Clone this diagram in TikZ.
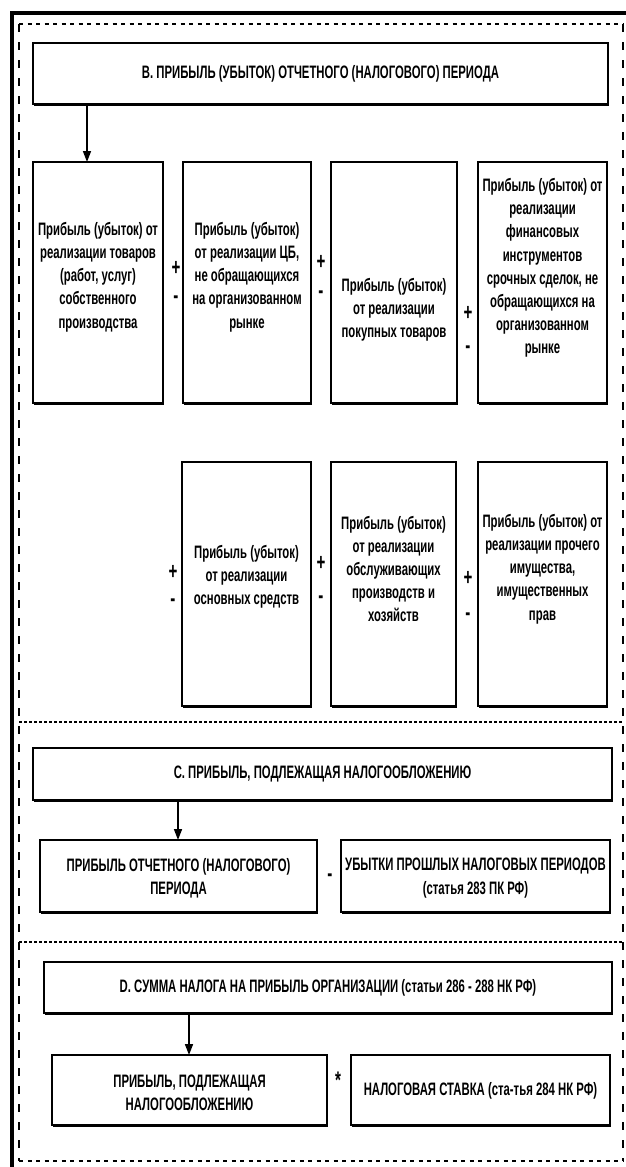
\documentclass[tikz,border=0pt]{standalone}
\usepackage{fontspec}
\setmainfont{Liberation Sans}[FakeStretch=0.63]
\usetikzlibrary{arrows.meta,shadows}
\newcommand\mybox[5]{\node[box, minimum width={(#4)-(#2)}, minimum height={(#5)-(#3)}] (#1) at ({((#2)+(#4))/2},{((#3)+(#5))/2}) {};}
\begin{document}
\begin{tikzpicture}[x=1pt,y=-1pt,
  box/.style={draw, line width=2.6pt, fill=white, inner sep=0pt, outer sep=0pt,
    drop shadow={shadow xshift=1pt, shadow yshift=-1.5pt, opacity=1, fill=black}},
  txt/.style={align=center, font=\bfseries\fontsize{18}{23.2}\selectfont, inner sep=0pt},
  sign/.style={font=\bfseries\fontsize{24}{24}\selectfont, inner sep=0pt},
  arr/.style={line width=1.6pt, -{Triangle[length=11pt,width=8pt]}},
  vdash/.style={line width=2pt, dash pattern=on 8pt off 10pt},
  hdash/.style={line width=2pt, dash pattern=on 4pt off 4.5pt},
  divdash/.style={line width=2pt, dash pattern=on 3pt off 2pt}]
\useasboundingbox (0,0) rectangle (626,1167);
% outer thick frame
\draw[line width=4pt] (12,1167) -- (12,13) -- (626,13);
% dashed frame
\draw[hdash] (19,24) -- (623,24);
\draw[hdash] (19,1161) -- (623,1161);
\draw[vdash] (19,24) -- (19,1161);
\draw[vdash] (623,24) -- (623,1161);
\draw[divdash] (19,722) -- (623,722);
\draw[divdash] (19,942) -- (623,942);

% Section B
\node[box, txt, minimum width=575, minimum height=61] (bh) at (320.5,73.5)
  {В. ПРИБЫЛЬ (УБЫТОК) ОТЧЕТНОГО (НАЛОГОВОГО) ПЕРИОДА};
\mybox{b1}{33}{162}{163}{403}
\mybox{b2}{183}{162}{311}{403}
\mybox{b3}{331}{162}{457}{403}
\mybox{b4}{478}{162}{607}{403}
\mybox{b5}{182}{462}{311}{706}
\mybox{b6}{331}{462}{456}{706}
\mybox{b7}{478}{462}{607}{706}
\node[txt] (b1t) at (98,277) {Прибыль (убыток) от\\реализации товаров\\(работ, услуг)\\собственного\\производства};
\node[txt] (b2t) at (247,277) {Прибыль (убыток)\\от реализации ЦБ,\\не обращающихся\\на организованном\\рынке};
\node[txt] (b3t) at (394,310) {Прибыль (убыток)\\от реализации\\покупных товаров};
\node[txt] (b4t) at (542.5,268) {Прибыль (убыток) от\\реализации\\финансовых\\инструментов\\срочных сделок, не\\обращающихся на\\организованном\\рынке};
\node[txt] (b5t) at (246.5,577) {Прибыль (убыток)\\от реализации\\основных средств};
\node[txt] (b6t) at (393.5,569) {Прибыль (убыток)\\от реализации\\обслуживающих\\производств и\\хозяйств};
\node[txt] (b7t) at (542.5,569) {Прибыль (убыток) от\\реализации прочего\\имущества,\\имущественных\\прав};
\node[sign] (p1) at (176,268) {+}; \node[sign] (m1) at (176,300) {-};
\node[sign] (p2) at (321,262) {+}; \node[sign] (m2) at (321,295) {-};
\node[sign] (p3) at (468,313) {+}; \node[sign] (m3) at (468,350) {-};
\node[sign] (p4) at (173,572) {+}; \node[sign] (m4) at (173,603) {-};
\node[sign] (p5) at (321,563) {+}; \node[sign] (m5) at (321,600) {-};
\node[sign] (p6) at (468,578) {+}; \node[sign] (m6) at (468,617) {-};
\draw[arr] ([xshift=54pt]bh.south west) -- ([xshift=54pt]bh.south west |- b1.north);

% Section C
\node[box, txt, minimum width=579, minimum height=52] (ch) at (322.5,774)
  {С. ПРИБЫЛЬ, ПОДЛЕЖАЩАЯ НАЛОГООБЛОЖЕНИЮ};
\mybox{c1}{40}{840}{317}{912}
\mybox{c2}{341}{840}{610}{912}
\node[txt] (c1t) at (178.5,878) {ПРИБЫЛЬ ОТЧЕТНОГО (НАЛОГОВОГО)\\ПЕРИОДА};
\node[txt] (c2t) at (475.5,878) {УБЫТКИ ПРОШЛЫХ НАЛОГОВЫХ ПЕРИОДОВ\\(статья 283 ПК РФ)};
\node[sign] (m7) at (330,878) {-};
\draw[arr] ([xshift=145pt]ch.south west) -- ([xshift=145pt]ch.south west |- c1.north);

% Section D
\node[box, txt, minimum width=568, minimum height=51] (dh) at (328,987.5)
  {D. СУММА НАЛОГА НА ПРИБЫЛЬ ОРГАНИЗАЦИИ (статьи 286 - 288 НК РФ)};
\mybox{d1}{52}{1055}{327}{1125}
\mybox{d2}{351}{1055}{610}{1125}
\node[txt] (d1t) at (189.5,1093) {ПРИБЫЛЬ, ПОДЛЕЖАЩАЯ\\НАЛОГООБЛОЖЕНИЮ};
\node[txt] (d2t) at (480.5,1091) {НАЛОГОВАЯ СТАВКА (ста-тья 284 НК РФ)};
\node[sign] (st) at (338,1080) {*};
\draw[arr] ([xshift=145pt]dh.south west) -- ([xshift=145pt]dh.south west |- d1.north);
\end{tikzpicture}
\end{document}
